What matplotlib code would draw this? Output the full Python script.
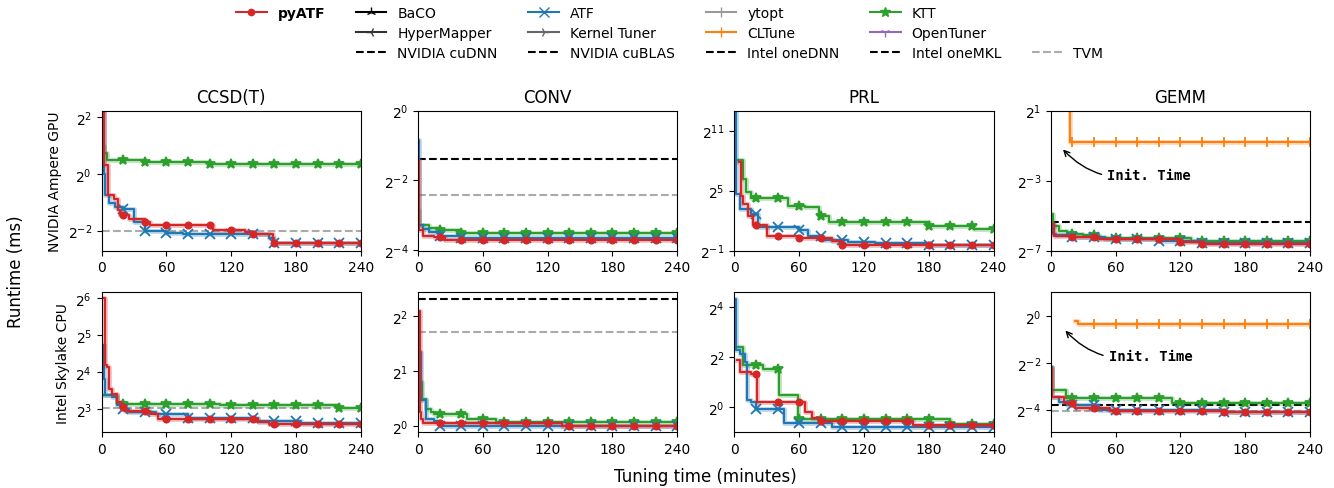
import numpy as np
import matplotlib
matplotlib.use('Agg')
import matplotlib.pyplot as plt
from matplotlib.lines import Line2D
from matplotlib.ticker import NullLocator

plt.rcParams['font.family'] = ['DejaVu Sans']

# tuning time (min) where best-so-far changes, and runtime (ms) from then on

# GPU / CCSD(T)
g_ccsd_pyatf_t = [0, 2, 6, 11, 15, 17, 25, 40, 45, 103, 133, 140, 159]
g_ccsd_pyatf_v = [4.59, 1.23, 0.595, 0.536, 0.415, 0.366, 0.330, 0.306, 0.287, 0.254, 0.240, 0.233, 0.186]
g_ccsd_atf_t = [0, 2, 3, 7, 12, 20, 30, 40, 60, 75, 155, 160]
g_ccsd_atf_v = [4.59, 1.0, 0.595, 0.486, 0.448, 0.420, 0.312, 0.245, 0.237, 0.228, 0.207, 0.186]
g_ccsd_ktt_t = [0, 2, 5, 40, 100]
g_ccsd_ktt_v = [1.96, 1.68, 1.40, 1.34, 1.27]
g_ccsd_tvm = 0.25

# GPU / CONV
g_conv_pyatf_t = [0, 1, 5, 15, 25]
g_conv_pyatf_v = [0.374, 0.092, 0.083, 0.081, 0.0765]
g_conv_atf_t = [0, 1, 5, 10, 20, 40]
g_conv_atf_v = [0.555, 0.102, 0.0955, 0.089, 0.083, 0.079]
g_conv_ktt_t = [0, 1, 10, 20, 40]
g_conv_ktt_v = [0.137, 0.102, 0.096, 0.092, 0.088]
g_conv_cudnn = 0.385
g_conv_tvm = 0.187

# GPU / PRL
g_prl_pyatf_t = [4, 6, 8, 13, 17, 30, 60, 90, 100]
g_prl_pyatf_v = [228, 22.6, 12.7, 5.66, 2.97, 1.41, 1.23, 1.0, 0.758]
g_prl_atf_t = [0, 1, 5, 15, 22, 60, 68, 82, 105, 130, 180]
g_prl_atf_v = [16384, 25.5, 9.0, 6.36, 2.64, 2.14, 1.41, 1.07, 0.933, 0.853, 0.758]
g_prl_ktt_t = [3, 8, 11, 15, 50, 65, 78, 88, 180, 222]
g_prl_ktt_v = [269, 72.0, 28.4, 19.3, 11.3, 10.1, 5.66, 3.56, 2.83, 2.25]

# GPU / GEMM
g_gemm_pyatf_t = [0, 3, 20, 45, 120, 140]
g_gemm_pyatf_v = [0.0224, 0.0138, 0.0132, 0.0121, 0.0109, 0.0103]
g_gemm_atf_t = [0, 2, 5, 20, 50, 100, 140]
g_gemm_atf_v = [0.0224, 0.0151, 0.0142, 0.0136, 0.0121, 0.0113, 0.0106]
g_gemm_ktt_t = [0, 2, 8, 15, 30, 45, 130]
g_gemm_ktt_v = [0.0335, 0.021, 0.0172, 0.0151, 0.0142, 0.0127, 0.0116]
g_gemm_cltune_t = [17, 17.3]
g_gemm_cltune_v = [4.0, 0.586]
g_gemm_cublas = 0.0246

# CPU / CCSD(T)
c_ccsd_pyatf_t = [0, 3, 5, 7, 10, 14, 18, 22, 45, 52, 145, 155]
c_ccsd_pyatf_v = [64, 18.1, 17.6, 11.7, 10.6, 9.06, 8.28, 7.73, 7.26, 6.54, 6.28, 6.02]
c_ccsd_atf_t = [0, 2, 3, 10, 14, 20, 25, 50, 80, 145, 185]
c_ccsd_atf_v = [26.5, 14.1, 10.3, 9.99, 8.51, 7.89, 7.52, 7.26, 6.73, 6.41, 6.15]
c_ccsd_ktt_t = [0, 14, 18, 110, 220]
c_ccsd_ktt_v = [10.4, 8.94, 8.75, 8.51, 8.11]
c_ccsd_tvm = 8.11

# CPU / CONV
c_conv_pyatf_t = [0, 2, 3, 5, 133]
c_conv_pyatf_v = [4.29, 1.19, 1.09, 1.04, 1.004]
c_conv_atf_t = [0, 3, 7, 15, 20]
c_conv_atf_v = [2.53, 1.38, 1.09, 1.06, 0.996]
c_conv_ktt_t = [0, 4, 7, 12, 15, 45, 72]
c_conv_ktt_v = [1.74, 1.40, 1.24, 1.19, 1.16, 1.09, 1.05]
c_conv_onednn = 4.99
c_conv_tvm = 3.29

# CPU / PRL
c_prl_pyatf_t = [2, 5, 15, 21, 65, 72, 80, 165]
c_prl_pyatf_v = [3.63, 2.62, 2.46, 1.14, 0.865, 0.732, 0.683, 0.611]
c_prl_atf_t = [0, 1, 5, 10, 12, 15, 20, 46, 90]
c_prl_atf_v = [20.1, 4.79, 4.38, 3.46, 1.23, 1.16, 0.933, 0.642, 0.578]
c_prl_ktt_t = [0, 8, 26, 41, 59, 200]
c_prl_ktt_v = [5.28, 3.23, 2.89, 1.38, 0.717, 0.624]

# CPU / GEMM
c_gemm_pyatf_t = [0, 1, 12, 22, 55, 160]
c_gemm_pyatf_v = [0.213, 0.090, 0.0765, 0.0652, 0.0608, 0.0579]
c_gemm_atf_t = [0, 1, 8, 15, 45, 160]
c_gemm_atf_v = [0.219, 0.090, 0.079, 0.0718, 0.0625, 0.0588]
c_gemm_ktt_t = [0, 1, 14, 112]
c_gemm_ktt_v = [0.219, 0.112, 0.0878, 0.0754]
c_gemm_cltune_t = [22.5, 25]
c_gemm_cltune_v = [0.853, 0.779]
c_gemm_onemkl = 0.0723
c_gemm_tvm = 0.0595

titles = ['CCSD(T)', 'CONV', 'PRL', 'GEMM']
rows = ['NVIDIA Ampere GPU', 'Intel Skylake CPU']
xticks = [0, 60, 120, 180, 240]

# y ticks (log2 exponents) and y limits (log2 exponents)
yt = [[[-2, 0, 2], [-4, -2, 0], [-1, 5, 11], [-7, -3, 1]],
      [[3, 4, 5, 6], [0, 1, 2], [0, 2, 4], [-4, -2, 0]]]
yl = [[(-2.70, 2.22), (-4.02, 0), (-1, 13), (-7, 1)],
      [(2.36, 6.16), (-0.115, 2.43), (-1.01, 4.57), (-4.97, 1.0)]]

RED, BLUE, GREEN, ORANGE, PURPLE = '#d62728', '#1f77b4', '#2ca02c', '#ff7f0e', '#9467bd'
TVM_C = '#aaaaaa'

# curves per panel: (t, v, color, marker, size)
curves = [
    [[(g_ccsd_ktt_t, g_ccsd_ktt_v, GREEN, '*', 7), (g_ccsd_atf_t, g_ccsd_atf_v, BLUE, 'x', 7),
      (g_ccsd_pyatf_t, g_ccsd_pyatf_v, RED, 'o', 4.5)],
     [(g_conv_ktt_t, g_conv_ktt_v, GREEN, '*', 7), (g_conv_atf_t, g_conv_atf_v, BLUE, 'x', 7),
      (g_conv_pyatf_t, g_conv_pyatf_v, RED, 'o', 4.5)],
     [(g_prl_ktt_t, g_prl_ktt_v, GREEN, '*', 7), (g_prl_atf_t, g_prl_atf_v, BLUE, 'x', 7),
      (g_prl_pyatf_t, g_prl_pyatf_v, RED, 'o', 4.5)],
     [(g_gemm_cltune_t, g_gemm_cltune_v, ORANGE, '|', 7), (g_gemm_ktt_t, g_gemm_ktt_v, GREEN, '*', 7),
      (g_gemm_atf_t, g_gemm_atf_v, BLUE, 'x', 7), (g_gemm_pyatf_t, g_gemm_pyatf_v, RED, 'o', 4.5)]],
    [[(c_ccsd_ktt_t, c_ccsd_ktt_v, GREEN, '*', 7), (c_ccsd_atf_t, c_ccsd_atf_v, BLUE, 'x', 7),
      (c_ccsd_pyatf_t, c_ccsd_pyatf_v, RED, 'o', 4.5)],
     [(c_conv_ktt_t, c_conv_ktt_v, GREEN, '*', 7), (c_conv_atf_t, c_conv_atf_v, BLUE, 'x', 7),
      (c_conv_pyatf_t, c_conv_pyatf_v, RED, 'o', 4.5)],
     [(c_prl_ktt_t, c_prl_ktt_v, GREEN, '*', 7), (c_prl_atf_t, c_prl_atf_v, BLUE, 'x', 7),
      (c_prl_pyatf_t, c_prl_pyatf_v, RED, 'o', 4.5)],
     [(c_gemm_cltune_t, c_gemm_cltune_v, ORANGE, '|', 7), (c_gemm_ktt_t, c_gemm_ktt_v, GREEN, '*', 7),
      (c_gemm_atf_t, c_gemm_atf_v, BLUE, 'x', 7), (c_gemm_pyatf_t, c_gemm_pyatf_v, RED, 'o', 4.5)]],
]

# reference lines per panel: (value, color)
refs = [
    [[(g_ccsd_tvm, TVM_C)], [(g_conv_cudnn, 'black'), (g_conv_tvm, TVM_C)], [], [(g_gemm_cublas, 'black')]],
    [[(c_ccsd_tvm, TVM_C)], [(c_conv_onednn, 'black'), (c_conv_tvm, TVM_C)], [],
     [(c_gemm_tvm, TVM_C), (c_gemm_onemkl, 'black')]],
]


def draw(ax, t, v, color, marker, ms):
    t = np.asarray(t, float)
    v = np.asarray(v, float)
    g = np.union1d(t, np.arange(0, 241))
    g = g[(g >= t[0]) & (g <= 240)]
    yy = v[np.searchsorted(t, g, side='right') - 1]
    mk = [i for i, x in enumerate(g) if x > 0 and x % 20 == 0]
    ax.plot(g, yy, drawstyle='steps-post', color=color, lw=3.4, alpha=0.3)
    ax.plot(g, yy, drawstyle='steps-post', color=color, lw=1.5, marker=marker, ms=ms,
            mew=1.3, markevery=mk)


fig, axes = plt.subplots(2, 4, figsize=(13.34, 4.89), dpi=100)
fig.subplots_adjust(left=0.0762, right=0.982, top=0.7716, bottom=0.1139, wspace=0.221, hspace=0.30)

for r in range(2):
    for c in range(4):
        ax = axes[r, c]
        ax.set_yscale('log', base=2)
        for val, col in refs[r][c]:
            ax.axhline(val, ls='--', color=col, lw=1.5)
        for t, v, col, m, ms in curves[r][c]:
            draw(ax, t, v, col, m, ms)
        ax.set_xlim(0, 240)
        ax.set_xticks(xticks)
        ax.set_yticks([2.0 ** e for e in yt[r][c]])
        ax.yaxis.set_minor_locator(NullLocator())
        ax.set_ylim(2.0 ** yl[r][c][0], 2.0 ** yl[r][c][1])
        ax.tick_params(labelsize=10)
        if r == 0:
            ax.set_title(titles[c], fontsize=12)
        if c == 0:
            ax.set_ylabel(rows[r], fontsize=10)

axes[0, 3].annotate('Init. Time', xy=(9.5, 2 ** -1.1), xytext=(52, 2 ** -2.66),
                    fontsize=10, family='monospace', fontweight='bold', va='center',
                    arrowprops=dict(arrowstyle='->', color='black', lw=1,
                                    connectionstyle='arc3,rad=-0.3'))
axes[1, 3].annotate('Init. Time', xy=(11.7, 2 ** -0.54), xytext=(53.4, 2 ** -1.71),
                    fontsize=10, family='monospace', fontweight='bold', va='center',
                    arrowprops=dict(arrowstyle='->', color='black', lw=1,
                                    connectionstyle='arc3,rad=-0.3'))

fig.text(0.012, 0.444, 'Runtime (ms)', rotation=90, va='center', ha='center', fontsize=12)
fig.text(0.529, 0.025, 'Tuning time (minutes)', va='center', ha='center', fontsize=12)

# legend: 6 columns x 3 rows, filled column by column
blank = Line2D([], [], alpha=0)
handles = [
    Line2D([], [], color=RED, marker='o', ms=4.5, lw=1.5), blank, blank,
    Line2D([], [], color='black', marker='2', ms=7, lw=1.5),
    Line2D([], [], color='#333333', marker='3', ms=7, lw=1.5),
    Line2D([], [], color='black', ls='--', lw=1.5),
    Line2D([], [], color=BLUE, marker='x', ms=7, lw=1.5),
    Line2D([], [], color='#666666', marker='4', ms=7, lw=1.5),
    Line2D([], [], color='black', ls='--', lw=1.5),
    Line2D([], [], color='#999999', marker='|', ms=7, lw=1.5),
    Line2D([], [], color=ORANGE, marker='|', ms=7, lw=1.5),
    Line2D([], [], color='black', ls='--', lw=1.5),
    Line2D([], [], color=GREEN, marker='*', ms=7, lw=1.5),
    Line2D([], [], color=PURPLE, marker='1', ms=7, lw=1.5),
    Line2D([], [], color='black', ls='--', lw=1.5),
    blank, blank,
    Line2D([], [], color=TVM_C, ls='--', lw=1.5),
]
labels = ['pyATF', '', '',
          'BaCO', 'HyperMapper', 'NVIDIA cuDNN',
          'ATF', 'Kernel Tuner', 'NVIDIA cuBLAS',
          'ytopt', 'CLTune', 'Intel oneDNN',
          'KTT', 'OpenTuner', 'Intel oneMKL',
          '', '', 'TVM']
leg = fig.legend(handles, labels, loc='upper center', bbox_to_anchor=(0.502, 1.012), ncol=6,
                 frameon=False, fontsize=10, handlelength=2.2, columnspacing=2.2,
                 labelspacing=0.45)
leg.get_texts()[0].set_fontweight('bold')

fig.savefig('out.png', dpi=100)
